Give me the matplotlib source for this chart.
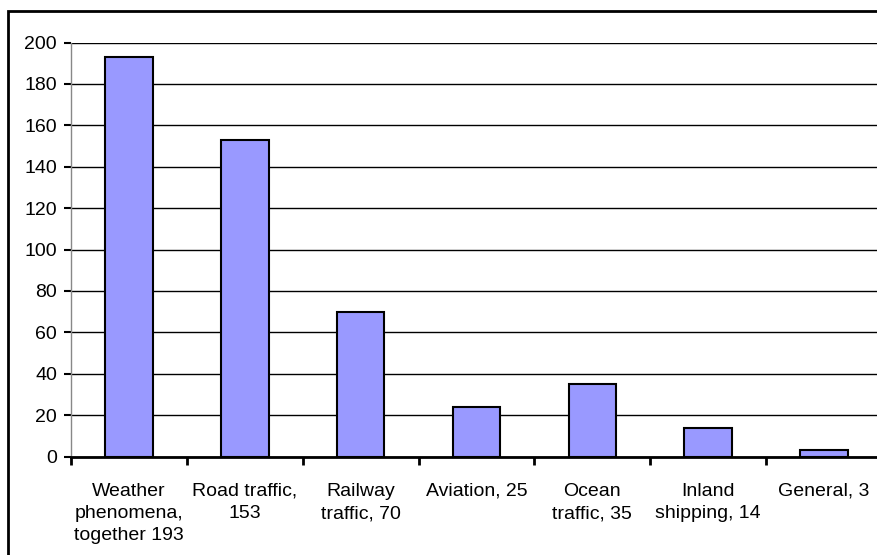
import matplotlib.pyplot as plt
from matplotlib.patches import Rectangle

# data
categorias = ["Weather\nphenomena,\ntogether 193", "Road traffic,\n153", "Railway\ntraffic, 70",
              "Aviation, 25", "Ocean\ntraffic, 35", "Inland\nshipping, 14", "General, 3"]
valores = [193, 153, 70, 24, 35, 14, 3]
yticks = [0, 20, 40, 60, 80, 100, 120, 140, 160, 180, 200]

plt.rcParams['font.family'] = ['Liberation Sans', 'DejaVu Sans']

W, H = 878, 555
fig = plt.figure(figsize=(W / 100, H / 100), dpi=100)

# outer chart border (only top and left visible in the crop)
fig.patches.append(Rectangle((8 / W, -0.1), 1.2, 1 - 10.5 / H + 0.1, transform=fig.transFigure,
                             fill=False, edgecolor='black', linewidth=2, zorder=0))

left, right = 71, 882
top, bottom = 42.5, 456.5
ax = fig.add_axes([left / W, 1 - bottom / H, (right - left) / W, (bottom - top) / H])

x = range(len(valores))
ax.bar(x, valores, width=0.41, color='#9999FF', edgecolor='black', linewidth=1.5, zorder=3)

ax.set_xlim(-0.5, len(valores) - 0.5)
ax.set_ylim(0, 200)
ax.set_yticks(yticks)
ax.yaxis.grid(True, color='black', linewidth=1)
ax.set_axisbelow(True)

ax.set_xticks([i + 0.5 for i in range(-1, len(valores))])
ax.set_xticklabels([])
ax.set_xticks(list(x), minor=True)
ax.set_xticklabels(categorias, minor=True, fontsize=14, linespacing=1.4)
ax.tick_params(axis='x', which='major', length=6, width=2, direction='out')
ax.tick_params(axis='x', which='minor', length=0, pad=19)
ax.tick_params(axis='y', length=5, width=1.5, labelsize=14, pad=5)

for s in ['top', 'right']:
    ax.spines[s].set_visible(False)
ax.spines['left'].set_color('#888888')
ax.spines['left'].set_linewidth(1)
ax.spines['bottom'].set_linewidth(2)

plt.savefig("out.png", dpi=100)
